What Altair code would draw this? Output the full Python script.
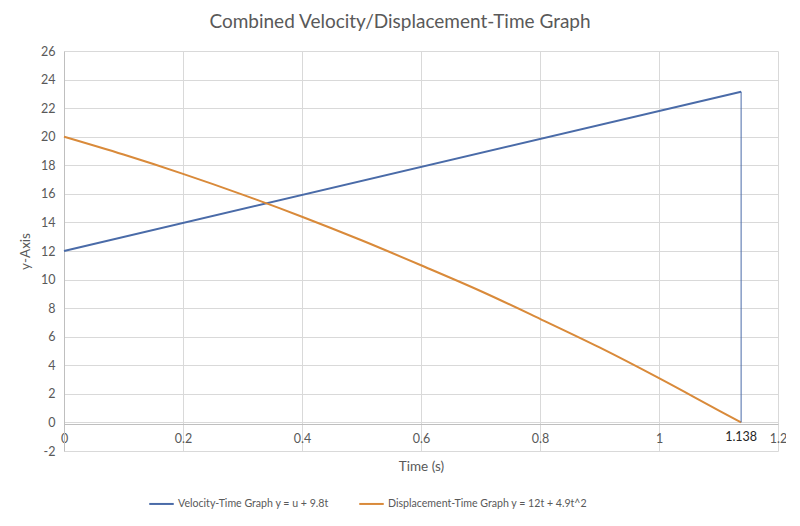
import altair as alt
import pandas as pd

FONT = "Lato"
TXT = "#595959"

vel_label = "Velocity-Time Graph y = u + 9.8t"
disp_label = "Displacement-Time Graph y = 12t + 4.9t^2"
series_names = [vel_label, disp_label]
series_colors = ["#4A6BA8", "#D98A3A"]

# Velocity-time series (straight line)
vel_t = [0, 1.138]
vel_v = [12, 23.15]

# Displacement-time series
disp_t = [0, 0.1, 0.2, 0.3, 0.4, 0.5, 0.6, 0.7, 0.8, 0.9, 1.0, 1.1, 1.138]
disp_s = [20, 18.75, 17.4, 15.95, 14.4, 12.75, 11.0, 9.2, 7.25, 5.25, 3.1, 0.85, 0]

# Vertical drop line at the end time
drop_t = [1.138]
drop_top = [23.15]
drop_bottom = [0]

# Extra label on the time axis
mark_t = [1.138]
mark_text = ["1.138"]

x_ticks = [0, 0.2, 0.4, 0.6, 0.8, 1.0, 1.2]
y_ticks = list(range(-2, 28, 2))

rows = []
for i, (t, v) in enumerate(zip(vel_t, vel_v)):
    rows.append({"t": t, "value": v, "series": vel_label, "idx": i})
for i, (t, v) in enumerate(zip(disp_t, disp_s)):
    rows.append({"t": t, "value": v, "series": disp_label, "idx": i})
df = pd.DataFrame(rows)

drop_df = pd.DataFrame({"t": drop_t, "value": drop_top, "bottom": drop_bottom})
mark_df = pd.DataFrame({"t": mark_t, "label": mark_text, "value": [0] * len(mark_t)})

xscale = alt.Scale(domain=[0, 1.2], nice=False, zero=False)
yscale = alt.Scale(domain=[-2, 26], nice=False, zero=False)

x_axis = alt.Axis(values=x_ticks, format="~g", title="Time (s)", offset=-27,
                  grid=True, ticks=False, domain=True, labelPadding=8, titlePadding=15,
                  labelFlush=False)
y_axis = alt.Axis(values=y_ticks, title="y-Axis", grid=True, ticks=False,
                  domain=True, labelPadding=9, titlePadding=8,
                  labelExpr="'' + datum.value")

lines = alt.Chart(df).mark_line(strokeWidth=2, interpolate="monotone").encode(
    x=alt.X("t:Q", scale=xscale, axis=x_axis),
    y=alt.Y("value:Q", scale=yscale, axis=y_axis),
    color=alt.Color("series:N",
                    scale=alt.Scale(domain=series_names, range=series_colors),
                    sort=series_names,
                    legend=alt.Legend(title=None, orient="none", direction="horizontal",
                                      legendX=84, legendY=439, symbolType="stroke",
                                      symbolSize=600, symbolStrokeWidth=2,
                                      columnPadding=26, labelFont=FONT, labelFontSize=10.6,
                                      labelColor=TXT, padding=0, labelLimit=400,
                                      labelOffset=3)),
    order="idx:Q",
)

drop = alt.Chart(drop_df).mark_rule(color="#4A6BA8", strokeWidth=1).encode(
    x=alt.X("t:Q", scale=xscale, axis=x_axis),
    y=alt.Y("value:Q", scale=yscale, axis=y_axis),
    y2="bottom:Q",
)

mark = alt.Chart(mark_df).mark_text(font=FONT, fontSize=12.5, color="#262626",
                                    baseline="middle", dy=15).encode(
    x=alt.X("t:Q", scale=xscale, axis=x_axis),
    y=alt.Y("value:Q", scale=yscale, axis=y_axis),
    text="label:N",
)

chart = alt.layer(lines, drop, mark).properties(
    width=714,
    height=400,
    autosize=alt.AutoSizeParams(type="none"),
    padding={"left": 56, "top": 43, "right": 8, "bottom": 67},
    title=alt.TitleParams("Combined Velocity/Displacement-Time Graph", font=FONT,
                          fontSize=19, fontWeight="normal", color=TXT,
                          anchor="middle", offset=13, dx=-21),
).configure_view(stroke=None).configure_axis(
    labelFont=FONT, labelFontSize=12.5, labelColor=TXT,
    titleFont=FONT, titleFontSize=13.5, titleColor=TXT, titleFontWeight="normal",
    gridColor="#d9d9d9", gridWidth=1, domainColor="#bfbfbf", domainWidth=1,
)

chart.save("out.html", embed_options={"renderer": "svg", "actions": False})
